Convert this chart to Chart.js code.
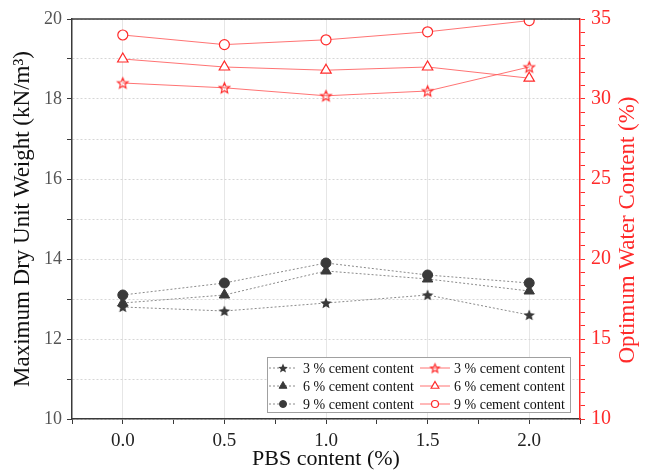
<!DOCTYPE html>
<html>
<head>
<meta charset="utf-8">
<script src="https://cdn.jsdelivr.net/npm/chart.js@4.4.0/dist/chart.umd.min.js"></script>
<style>
html, body { margin: 0; padding: 0; background: #fff; }
</style>
</head>
<body>
<canvas id="mycanvas" width="648" height="472"></canvas>
<script>
// data
var pbs = [0.0, 0.5, 1.0, 1.5, 2.0];
var labels = ['3 % cement content', '6 % cement content', '9 % cement content'];
var dryWeight3 = [12.8, 12.7, 12.9, 13.1, 12.6];
var dryWeight6 = [12.9, 13.1, 13.7, 13.5, 13.2];
var dryWeight9 = [13.1, 13.4, 13.9, 13.6, 13.4];
var water3 = [31.0, 30.7, 30.2, 30.5, 32.0];
var water6 = [32.5, 32.0, 31.8, 32.0, 31.3];
var water9 = [34.0, 33.4, 33.7, 34.2, 34.9];

var serif = 'Liberation Serif';
var dark = '#3a3a3a';
var red = '#ff2a2a';

function starImage(fill, stroke, r) {
  var size = Math.ceil(r * 2 + 4);
  var c = document.createElement('canvas');
  c.width = size; c.height = size;
  var g = c.getContext('2d');
  var cx = size / 2, cy = size / 2 + 0.5;
  g.beginPath();
  for (var i = 0; i < 10; i++) {
    var rad = i % 2 ? r * 0.45 : r;
    var a = -Math.PI / 2 + i * Math.PI / 5;
    g.lineTo(cx + rad * Math.cos(a), cy + rad * Math.sin(a));
  }
  g.closePath();
  if (fill) { g.fillStyle = fill; g.fill(); }
  if (stroke) { g.strokeStyle = stroke; g.lineWidth = 1.2; g.stroke(); }
  return c;
}

function pts(ys) {
  var out = [];
  for (var i in pbs) out.push({x: pbs[i], y: ys[i]});
  return out;
}

function darkSet(label, ys, style, r) {
  return {
    label: label, data: pts(ys), yAxisID: 'y',
    borderColor: '#8a8a8a', borderWidth: 1, borderDash: [2, 2],
    pointStyle: style, pointRadius: r, pointBackgroundColor: dark,
    pointBorderColor: dark, pointBorderWidth: 1, tension: 0
  };
}
function redSet(label, ys, style, r) {
  return {
    label: label, data: pts(ys), yAxisID: 'y1',
    borderColor: 'rgba(255,90,90,0.85)', borderWidth: 1,
    pointStyle: style, pointRadius: r, pointBackgroundColor: '#fff',
    pointBorderColor: red, pointBorderWidth: 1.2, tension: 0
  };
}

var legendStars = [starImage(dark, null, 5), starImage(null, red, 4.5)];

var datasets = [
  darkSet(labels[0], dryWeight3, starImage(dark, null, 6), 6),
  darkSet(labels[1], dryWeight6, 'triangle', 6),
  darkSet(labels[2], dryWeight9, 'circle', 5),
  redSet(labels[0], water3, starImage(null, red, 5.5), 6),
  redSet(labels[1], water6, 'triangle', 6),
  redSet(labels[2], water9, 'circle', 5)
];

function isHalf(v) { return Math.abs(v * 2 - Math.round(v * 2)) < 1e-6; }

var extras = {
  id: 'extras',
  afterDraw: function(chart) {
    var ctx = chart.ctx, a = chart.chartArea;
    ctx.save();
    // top frame line
    ctx.strokeStyle = dark; ctx.lineWidth = 1.5;
    ctx.beginPath(); ctx.moveTo(a.left, a.top); ctx.lineTo(a.right, a.top); ctx.stroke();

    // right axis title, reading upwards
    ctx.fillStyle = red;
    ctx.font = '23px "' + serif + '"';
    ctx.textAlign = 'center'; ctx.textBaseline = 'middle';
    ctx.translate(628, 230);
    ctx.rotate(-Math.PI / 2);
    ctx.fillText('Optimum Water Content (%)', 0, 0);
    ctx.restore();

    // legend box
    ctx.save();
    ctx.fillStyle = '#fff';
    ctx.fillRect(267, 357, 303, 55);
    ctx.strokeStyle = '#a0a0a0'; ctx.lineWidth = 1;
    ctx.strokeRect(267.5, 357.5, 303, 55);
    ctx.font = '14px "' + serif + '"';
    ctx.textBaseline = 'middle'; ctx.textAlign = 'left';
    var cols = [{x0: 269, x1: 297, tx: 303}, {x0: 420, x1: 450, tx: 454}];
    for (var i = 0; i < 6; i++) {
      var col = cols[Math.floor(i / 3)];
      var y = 368 + (i % 3) * 18;
      var ds = chart.data.datasets[i];
      ctx.strokeStyle = ds.borderColor; ctx.lineWidth = ds.borderWidth;
      ctx.setLineDash(ds.borderDash || []);
      ctx.beginPath(); ctx.moveTo(col.x0, y); ctx.lineTo(col.x1, y); ctx.stroke();
      ctx.setLineDash([]);
      ctx.fillStyle = ds.pointBackgroundColor; ctx.strokeStyle = ds.pointBorderColor;
      ctx.lineWidth = ds.pointBorderWidth;
      var style = i % 3 === 0 ? legendStars[i / 3] : ds.pointStyle;
      Chart.helpers.drawPoint(ctx, {pointStyle: style, radius: ds.pointRadius - 1.5, rotation: 0, borderWidth: ds.pointBorderWidth}, (col.x0 + col.x1) / 2, y);
      ctx.fillStyle = '#111';
      ctx.fillText(ds.label, col.tx, y + 1);
    }
    ctx.restore();
  }
};

var ctx = document.getElementById('mycanvas');
var chart = new Chart(ctx, {
  type: 'line',
  data: { datasets: datasets },
  plugins: [extras],
  options: {
    responsive: false,
    animation: false,
    devicePixelRatio: 1,
    layout: { padding: { top: 19, left: 0, right: 0, bottom: 0 } },
    plugins: { legend: { display: false }, tooltip: { enabled: false } },
    scales: {
      x: {
        type: 'linear', min: -0.25, max: 2.25,
        afterFit: function(s) { s.height = 53; },
        ticks: {
          stepSize: 0.25, autoSkip: false, maxRotation: 0, padding: 6,
          color: '#222', font: { family: serif, size: 19 },
          callback: function(v) { return isHalf(v) ? v.toFixed(1) : ''; }
        },
        grid: {
          color: function(c) { return c.tick && isHalf(c.tick.value) ? '#e6e6e6' : 'rgba(0,0,0,0)'; },
          tickColor: dark, tickLength: 5, lineWidth: 1
        },
        border: { color: dark, width: 1.5 },
        title: { display: true, text: 'PBS content (%)', color: '#111', font: { family: serif, size: 22 }, padding: { top: 0, bottom: 0 } }
      },
      y: {
        position: 'left', min: 10, max: 20,
        afterFit: function(s) { s.width = 72; },
        ticks: {
          stepSize: 1, autoSkip: false, padding: 5,
          color: '#555', font: { family: serif, size: 18 },
          callback: function(v) { return v % 2 === 0 ? String(v) : ''; }
        },
        grid: { color: '#d6d6d6', tickColor: dark, tickLength: 5, lineWidth: 1 },
        border: { color: dark, width: 1.5, dash: [2, 2] },
        title: { display: true, text: 'Maximum Dry Unit Weight (kN/m³)', color: '#111', font: { family: serif, size: 23 }, padding: { top: 9, bottom: 4 } }
      },
      y1: {
        position: 'right', min: 10, max: 35,
        afterFit: function(s) { s.width = 68; },
        afterBuildTicks: function(s) {
          var t = [];
          for (var k = 0; k <= 30; k++) t.push({ value: 10 + k * 5 / 6 });
          s.ticks = t;
        },
        ticks: {
          autoSkip: false, padding: 6,
          color: red, font: { family: serif, size: 20 },
          callback: function(v, i) { return i % 6 === 0 ? String(Math.round(v)) : ''; }
        },
        grid: { drawOnChartArea: false, tickColor: red, tickLength: 5 },
        border: { color: red, width: 1.5 }
      }
    }
  }
});
</script>
</body>
</html>
